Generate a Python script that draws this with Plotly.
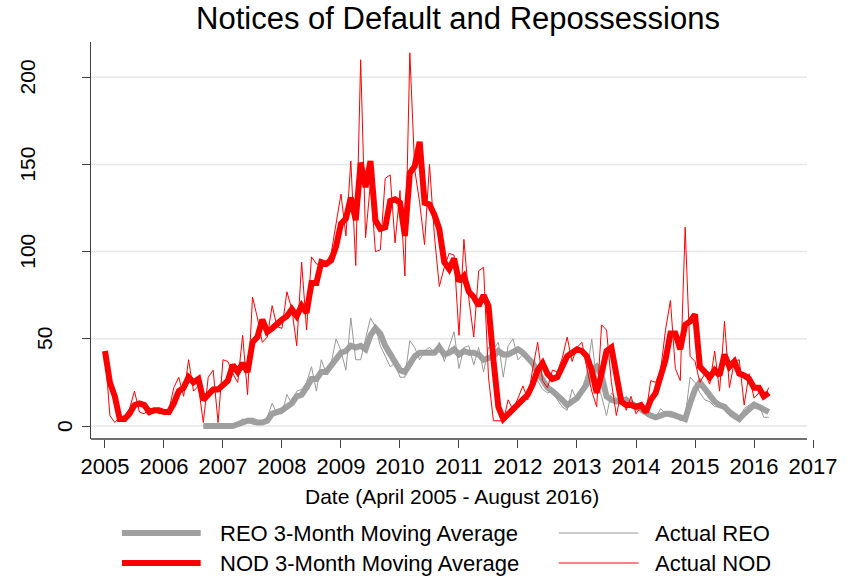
import numpy as np
import plotly.graph_objects as go

# Monthly counts, April 2005 onward (plotted on a decimal-year axis starting at 2005)
nod_actual = [43, 6, 2, 5, 6, 10, 20, 8, 7, 10, 9, 7,
              8, 9, 22, 28, 17, 38, 20, 23, 2, 28, 32, 2,
              38, 37, 30, 25, 52, 18, 74, 62, 48, 51, 69, 57,
              56, 77, 67, 46, 94, 55, 97, 93, 92, 94, 99, 116,
              133, 109, 152, 92, 210, 108, 140, 100, 101, 142, 144, 105,
              135, 86, 214, 147, 128, 104, 150, 109, 80, 91, 99, 98,
              52, 107, 73, 51, 89, 91, 28, 3, 3, 3, 15, 9,
              16, 23, 15, 33, 48, 26, 22, 32, 31, 39, 51, 37,
              45, 48, 33, 20, 11, 58, 55, 25, 6, 20, 9, 17,
              7, 11, 7, 26, 25, 32, 55, 72, 33, 26, 114, 40,
              37, 25, 30, 24, 43, 20, 60, 22, 37, 38, 12, 30,
              16, 19, 16, 22]

nod_ma = [43, 25, 17, 4, 4, 7, 12, 13, 12, 8, 9, 9,
          8, 8, 13, 20, 22, 28, 25, 27, 15, 18, 21, 21,
          24, 26, 35, 31, 36, 31, 48, 51, 61, 54, 56, 59,
          61, 63, 67, 63, 69, 65, 82, 82, 94, 93, 95, 103,
          116, 119, 131, 118, 151, 137, 152, 118, 113, 114, 129, 130,
          128, 109, 145, 149, 163, 128, 127, 121, 113, 94, 90, 96,
          83, 86, 77, 74, 69, 75, 69, 38, 11, 4, 7, 9,
          13, 16, 18, 24, 32, 36, 30, 27, 28, 34, 40, 42,
          44, 43, 40, 32, 19, 30, 43, 45, 30, 14, 12, 12,
          11, 12, 8, 15, 19, 28, 38, 53, 53, 44, 58, 60,
          64, 34, 31, 28, 32, 29, 41, 34, 37, 30, 29, 27,
          22, 22, 17, 19]

reo_actual = [None] * 20 + [
    0, 0, 0, 0, 0, 0, 0, 2, 4, 3, 1, 1,
    2, 5, 13, 7, 7, 18, 13, 20, 21, 25, 34, 20,
    38, 30, 36, 50, 43, 32, 62, 38, 38, 50, 62, 57,
    46, 40, 34, 36, 28, 28, 49, 45, 38, 43, 45, 42,
    48, 37, 46, 54, 33, 45, 46, 35, 45, 31, 45, 44,
    48, 28, 46, 50, 38, 41, 38, 34, 26, 21, 19, 20,
    15, 11, 9, 21, 15, 21, 30, 50, 26, 17, 6, 19,
    16, 14, 17, 11, 9, 11, 6, 5, 4, 10, 7, 5,
    7, 3, 5, 28, 25, 19, 15, 14, 11, 11, 10, 6,
    4, 4, 10, 12, 14, 12, 5, 5]

reo_ma = [None] * 20 + [
    0, 0, 0, 0, 0, 0, 0, 1, 2, 3, 3, 2,
    2, 3, 7, 8, 9, 11, 13, 17, 18, 22, 27, 27,
    31, 31, 35, 39, 42, 43, 46, 45, 46, 44, 52, 56,
    53, 46, 41, 36, 32, 31, 35, 40, 42, 42, 42, 42,
    45, 41, 42, 44, 41, 43, 42, 42, 41, 38, 39, 40,
    43, 41, 41, 43, 44, 42, 39, 36, 31, 26, 22, 20,
    18, 15, 12, 14, 16, 20, 24, 32, 34, 29, 17, 15,
    14, 14, 15, 13, 11, 9, 8, 6, 5, 6, 7, 7,
    6, 5, 4, 13, 21, 25, 21, 17, 14, 12, 11, 8,
    6, 4, 7, 10, 12, 11, 9, 8]

year_ticks = list(range(2005, 2018))
y_ticks = [0, 50, 100, 150, 200]

t = 2005 + np.arange(len(nod_actual)) / 12.0

RED = "#ff0000"
GRAY_THICK = "#a0a0a0"
GRAY_THIN = "#999999"
FONT = "Liberation Sans, Arial, sans-serif"

# canvas geometry (pixels)
W, H = 849, 580
L, R, T, B = 91, 815, 42, 439
X0, X1 = 2004.763, 2017.0
Y0, Y1 = -7.45, 220.2
X_END = 2016.898  # right edge of the drawn plot region


def px(x):
    return (x - L) / (R - L)


def py(y):
    return (B - y) / (B - T)


fig = go.Figure()

fig.add_trace(go.Scatter(x=t, y=reo_ma, mode="lines", name="REO 3-Month Moving Average",
                         line=dict(color=GRAY_THICK, width=6), showlegend=False))
fig.add_trace(go.Scatter(x=t, y=reo_actual, mode="lines", name="Actual REO",
                         line=dict(color=GRAY_THIN, width=1), showlegend=False))
fig.add_trace(go.Scatter(x=t, y=nod_ma, mode="lines", name="NOD 3-Month Moving Average",
                         line=dict(color=RED, width=6), showlegend=False))
fig.add_trace(go.Scatter(x=t, y=nod_actual, mode="lines", name="Actual NOD",
                         line=dict(color=RED, width=1), showlegend=False))

shapes = []
# horizontal gridlines across the plot region
for v in y_ticks:
    shapes.append(dict(type="line", xref="x", yref="y", x0=X0, x1=X_END, y0=v, y1=v,
                       line=dict(color="#e6e6e6", width=1.5), layer="below"))
# x axis line (stops at the plot region edge)
shapes.append(dict(type="line", xref="x", yref="paper", x0=X0, x1=X_END, y0=0, y1=0,
                   line=dict(color="#404040", width=1.3)))

# legend: two columns of line samples and labels
legend_items = [
    ("REO 3-Month Moving Average", GRAY_THICK, 6, 122, 201, 218, 533),
    ("Actual REO", GRAY_THIN, 1, 560, 640, 655, 533),
    ("NOD 3-Month Moving Average", RED, 6, 122, 201, 218, 563),
    ("Actual NOD", RED, 1, 560, 640, 655, 563),
]
annotations = []
for label, col, w, xa, xb, xt, yy in legend_items:
    shapes.append(dict(type="line", xref="paper", yref="paper", x0=px(xa), x1=px(xb),
                       y0=py(yy), y1=py(yy), line=dict(color=col, width=w)))
    annotations.append(dict(text=label, xref="paper", yref="paper", x=px(xt), y=py(yy),
                            xanchor="left", yanchor="middle", showarrow=False,
                            font=dict(family=FONT, size=22, color="#000000")))

# rotated y tick labels
ylab_x = {0: 64, 50: 45, 100: 27, 150: 27, 200: 27}
for v in y_ticks:
    annotations.append(dict(text=str(v), xref="paper", yref="y", x=px(ylab_x[v]), y=v,
                            xanchor="center", yanchor="middle", textangle=-90, showarrow=False,
                            font=dict(family=FONT, size=21, color="#000000")))

# x axis title
annotations.append(dict(text="Date (April 2005 - August 2016)", xref="paper", yref="paper",
                        x=px(453), y=py(496), xanchor="center", yanchor="middle", showarrow=False,
                        font=dict(family=FONT, size=21, color="#000000")))

fig.update_layout(
    width=W, height=H,
    margin=dict(l=L, r=W - R, t=T, b=H - B, pad=0),
    paper_bgcolor="white", plot_bgcolor="white",
    title=dict(text="Notices of Default and Repossessions", x=458 / W, xanchor="center",
               y=1 - 18 / H, yanchor="middle",
               font=dict(family=FONT, size=31, color="#000000")),
    xaxis=dict(range=[X0, X1], tickmode="array", tickvals=year_ticks,
               ticktext=[str(y) for y in year_ticks], ticks="outside", ticklen=8,
               tickwidth=1.3, tickcolor="#404040", showgrid=False, zeroline=False,
               showline=False, tickfont=dict(family=FONT, size=22, color="#000000")),
    yaxis=dict(range=[Y0, Y1], tickmode="array", tickvals=y_ticks, ticks="outside",
               ticklen=8, tickwidth=1.3, tickcolor="#404040", showticklabels=False,
               showgrid=False, zeroline=False, showline=True, linecolor="#404040",
               linewidth=1.3),
    shapes=shapes,
    annotations=annotations,
    showlegend=False,
)

fig.write_html("out.html")
